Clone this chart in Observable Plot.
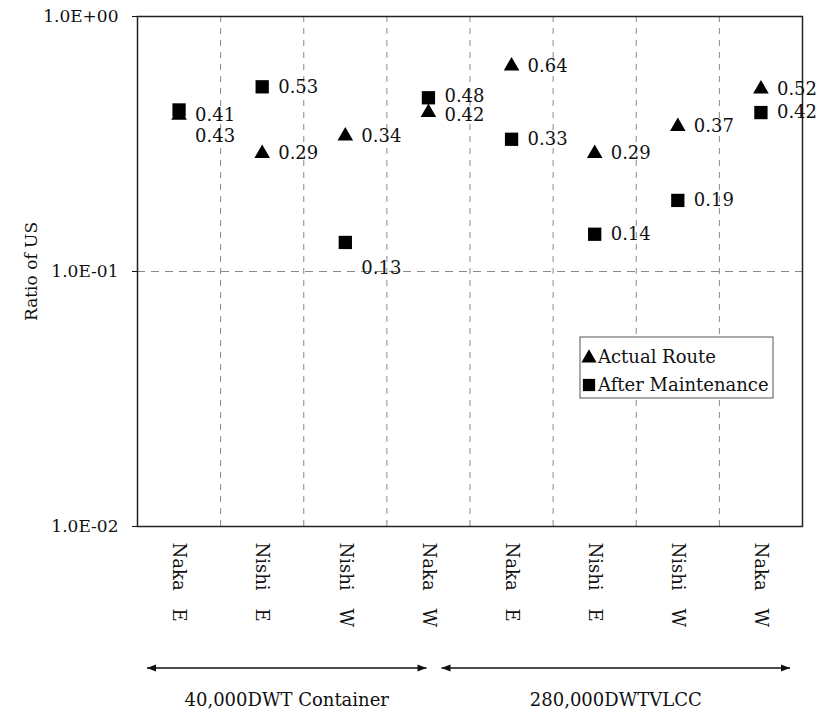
<!DOCTYPE html>
<html><head><meta charset="utf-8">
<script src="https://cdn.jsdelivr.net/npm/d3@7"></script>
<script src="https://cdn.jsdelivr.net/npm/@observablehq/plot@0.6"></script>
<style>body{margin:0;background:#fff}</style>
</head><body><div id="chart"></div>
<script>
const categories = ["Naka E","Nishi E","Nishi W","Naka W","Naka E","Nishi E","Nishi W","Naka W"];
const actualRoute = [0.41,0.29,0.34,0.42,0.64,0.29,0.37,0.52];
const afterMaintenance = [0.43,0.53,0.13,0.48,0.33,0.14,0.19,0.42];
const seriesNames = ["Actual Route","After Maintenance"];
const groupNames = ["40,000DWT Container","280,000DWTVLCC"];
const groupSpans = [[0,4],[4,8]];
const yTicks = [0.01,0.1,1];

const FONT = "'DejaVu Serif', serif";
const rows = categories.flatMap((c,i)=>[
  {i, cat:c, series:seriesNames[0], value:actualRoute[i]},
  {i, cat:c, series:seriesNames[1], value:afterMaintenance[i]}
]);
// label placement tweaks, as in the original
const isBelow = d => d.series===seriesNames[1] && (d.i===0 || d.i===2);
const isUp = d => d.series===seriesNames[1] && d.i===3;
const isDown = d => d.series===seriesNames[0] && d.i===3;
const isNormal = d => !isBelow(d) && !isUp(d) && !isDown(d);

function fmtE(d){
  const [m,e] = d.toExponential(1).toUpperCase().split("E");
  const n = +e;
  return m + "E" + (n<0?"-":"+") + String(Math.abs(n)).padStart(2,"0");
}

const lbl = (filter, dy) => Plot.text(rows.filter(filter), {x:d=>d.i+0.5, y:"value", text:d=>d.value.toFixed(2),
  textAnchor:"start", dx:16, dy, fontSize:18, fill:"#111"});

const plot = Plot.plot({
  width:819, height:712,
  marginLeft:137, marginRight:17, marginTop:16, marginBottom:186,
  style:{fontFamily:FONT, fontSize:"17px", color:"#111", background:"#fff", overflow:"visible"},
  x:{type:"linear", domain:[0,8]},
  y:{type:"log", domain:[0.01,1]},
  marks:[
    Plot.ruleX(d3.range(1,8), {stroke:"#888", strokeDasharray:"6,6", strokeWidth:1}),
    Plot.ruleY([0.1], {stroke:"#888", strokeDasharray:"8,6", strokeWidth:1}),
    Plot.frame({stroke:"#222", strokeWidth:1.5}),
    Plot.axisY({ticks:yTicks, tickFormat:fmtE, tickSize:5, tickPadding:14, fontSize:17,
      label:"Ratio of US", labelAnchor:"center", labelOffset:113, labelArrow:false}),
    Plot.axisX({ticks:d3.range(8).map(i=>i+0.5), tickFormat:d=>categories[Math.floor(d)].replace(" ","\u2003"),
      tickRotate:90, tickSize:0, tickPadding:16, fontSize:18, label:null}),
    Plot.dot(rows.filter(d=>d.series===seriesNames[0]), {x:d=>d.i+0.5, y:"value", symbol:"triangle", r:5.8, fill:"#000", stroke:null}),
    Plot.dot(rows.filter(d=>d.series===seriesNames[1]), {x:d=>d.i+0.5, y:"value", symbol:"square", r:7.5, fill:"#000", stroke:null}),
    lbl(isNormal, 0),
    lbl(isBelow, 26),
    lbl(isUp, -2),
    lbl(isDown, 3)
  ]
});

// annotations: group arrows & labels, legend
const svg = d3.select(plot);
const xs = plot.scale("x");
const X = v => xs.apply(v);
const H = 712, W = 819;
const arrowInsets = [[10,-43],[-28,-12]];
const ay = H - 44;
groupSpans.forEach(([a,b],k)=>{
  const x1 = X(a)+arrowInsets[k][0], x2 = X(b)+arrowInsets[k][1];
  const g = svg.append("g");
  g.append("line").attr("x1",x1).attr("x2",x2).attr("y1",ay).attr("y2",ay).attr("stroke","#111").attr("stroke-width",1.5);
  g.append("path").attr("d",`M${x1},${ay}l9,-3.5v7z`).attr("fill","#111");
  g.append("path").attr("d",`M${x2},${ay}l-9,-3.5v7z`).attr("fill","#111");
  g.append("text").attr("x",(x1+x2)/2).attr("y",H-12).attr("dy","0.35em").attr("text-anchor","middle")
    .attr("font-family",FONT).attr("font-size",18).attr("fill","#111").text(groupNames[k]);
});

// legend
const lx = W - 17 - 222, ly = 16 + 321;
const lg = svg.append("g").attr("font-family",FONT).attr("font-size",18).attr("fill","#111").attr("text-anchor","start");
lg.append("rect").attr("x",lx).attr("y",ly).attr("width",193).attr("height",61).attr("fill","#fff").attr("stroke","#555").attr("stroke-width",1);
const syms = [d3.symbolTriangle, d3.symbolSquare];
const sizes = [100, 150];
seriesNames.forEach((s,k)=>{
  const cy = ly + 20 + k*28;
  lg.append("path").attr("transform",`translate(${lx+9},${cy+(k===0?1:0)})`).attr("d",d3.symbol(syms[k], sizes[k])()).attr("fill","#000");
  lg.append("text").attr("x",lx+18).attr("y",cy).attr("dy","0.35em").attr("text-anchor","start").text(s);
});

document.getElementById("chart").appendChild(plot);
</script>
</body></html>
